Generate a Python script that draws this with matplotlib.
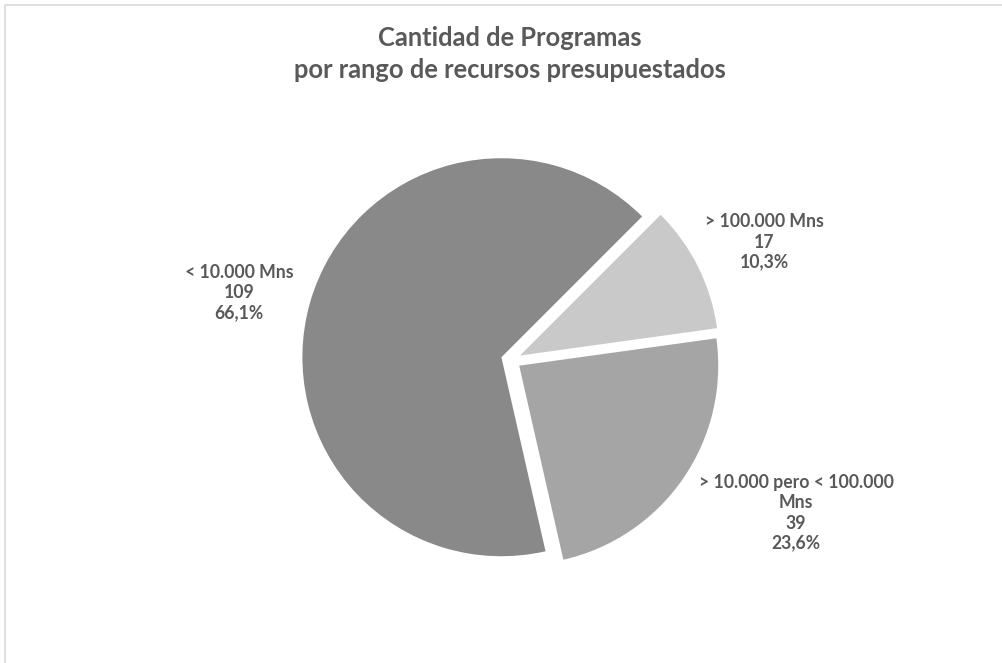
import numpy as np
import matplotlib.pyplot as plt
from matplotlib.patches import Rectangle

# data (clockwise from the upper right)
categories = ["> 100.000 Mns", "> 10.000 pero < 100.000\nMns", "< 10.000 Mns"]
programas = [17, 39, 109]
porcentajes = ["10,3%", "23,6%", "66,1%"]
colores = ["#c9c9c9", "#a5a5a5", "#898989"]

plt.rcParams["font.family"] = ["Lato", "DejaVu Sans"]
text_color = "#595959"

fig = plt.figure(figsize=(10.02, 6.63), dpi=100)
ax = fig.add_axes([0, 0, 1, 1])

# work in pixel-like units, y going up
W, H = 1002, 663
cx, cy, r = 511, H - 360, 199

wedges, _ = ax.pie(programas, colors=colores, startangle=45, counterclock=False,
                   explode=[10, 10, 10], center=(cx, cy), radius=r,
                   wedgeprops=dict(linewidth=0))

ax.set_xlim(0, W)
ax.set_ylim(0, H)
ax.set_aspect("equal")
ax.axis("off")

# chart area border
ax.add_patch(Rectangle((5, -10), W, H - 5 + 10, fill=False, edgecolor="#d9d9d9", linewidth=1.2))

# data labels
label_pos = [(764, H - 242), (796, H - 513), (239, H - 293)]
for cat, n, pct, (x, y) in zip(categories, programas, porcentajes, label_pos):
    ax.text(x, y, f"{cat}\n{n}\n{pct}", ha="center", va="center", fontsize=12.7,
            fontweight="bold", color=text_color, linespacing=1.22)

ax.text(W / 2 + 9, H - 54, "Cantidad de Programas\npor rango de recursos presupuestados",
        ha="center", va="center", fontsize=18.4, fontweight="bold", color=text_color,
        linespacing=1.45)

fig.savefig("out.png", dpi=100)
